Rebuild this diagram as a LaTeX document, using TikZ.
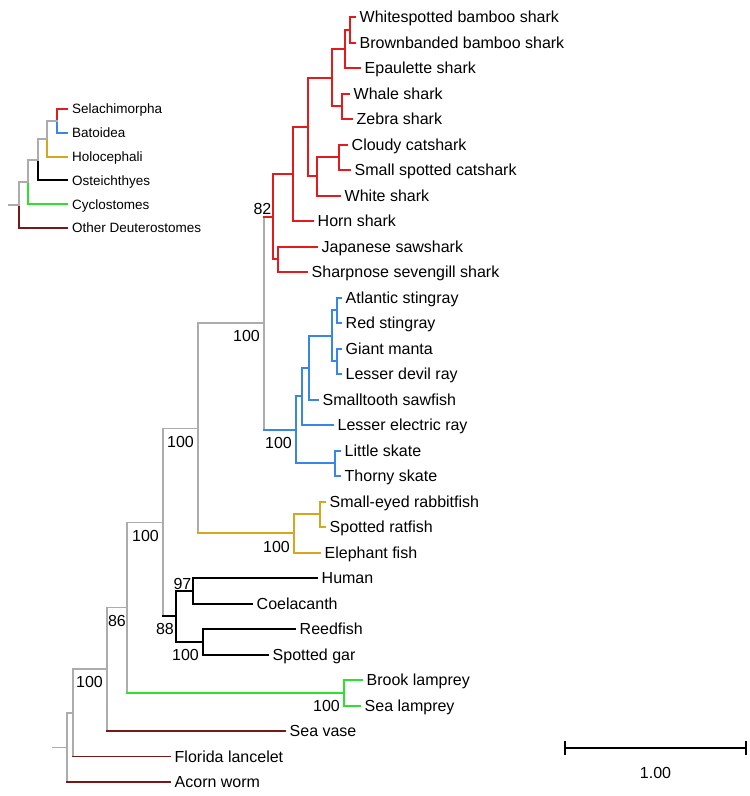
\documentclass[tikz,border=0pt]{standalone}
\usepackage{fontspec}
\setmainfont{Liberation Sans}
\usetikzlibrary{positioning}
\definecolor{sharkred}{RGB}{228,26,28}
\definecolor{rayblue}{RGB}{55,135,230}
\definecolor{chimaeragold}{RGB}{214,166,30}
\definecolor{lampreygreen}{RGB}{45,225,45}
\definecolor{outgroupred}{RGB}{120,24,24}
\definecolor{stemgray}{RGB}{172,172,172}
\newcommand\taxonfont{\fontsize{16}{18}\selectfont}
\newcommand\keyfont{\fontsize{13.5}{15}\selectfont}

\begin{document}
\begin{tikzpicture}[
    x=1pt, y=-1pt,
    taxon/.style={anchor=west, inner xsep=4.5pt, inner ysep=0pt, text height=11.5pt, text depth=0pt, font=\taxonfont},
    keytaxon/.style={anchor=west, inner xsep=5pt, inner ysep=0pt, text height=9.7pt, text depth=0pt, font=\keyfont},
    support/.style={inner sep=0pt, text height=11.5pt, text depth=0pt, font=\taxonfont},
    bootbelow/.style={support, anchor=north east, xshift=-4pt, yshift=-7pt},
    bootabove/.style={support, anchor=south east, xshift=-1.5pt, yshift=1.5pt},
    base/.style={line width=1.6pt, draw=stemgray},
    shk/.style={line width=2pt, draw=sharkred},
    ray/.style={line width=2pt, draw=rayblue},
    chim/.style={line width=2pt, draw=chimaeragold},
    bony/.style={line width=2pt, draw=black},
    lamp/.style={line width=2pt, draw=lampreygreen},
    outg/.style={line width=1.4pt, draw=outgroupred},
    line cap=rect
]
\useasboundingbox (0,0) rectangle (750,796);

% Legend
\node[keytaxon] (key1) at (67,109) {Selachimorpha};
\node[keytaxon] (key2) at (67,132.8) {Batoidea};
\node[keytaxon] (key3) at (67,156.6) {Holocephali};
\node[keytaxon] (key4) at (67,180.4) {Osteichthyes};
\node[keytaxon] (key5) at (67,204.2) {Cyclostomes};
\node[keytaxon] (key6) at (67,228) {Other Deuterostomes};
\coordinate (g1) at (57,120.9);
\coordinate (g2) at (47,138.75);
\coordinate (g3) at (38,159.6);
\coordinate (g4) at (28,181.9);
\coordinate (g5) at (19,204.95);
\coordinate (g0) at (9,204.95);
\draw[shk] (key1.west) -| (g1);
\draw[ray] (key2.west) -| (g1);
\draw[chim] (key3.west) -| (g2);
\draw[bony] (key4.west) -| (g3);
\draw[lamp] (key5.west) -| (g4);
\draw[outg, line width=2pt] (key6.west) -| (g5);
\foreach \a/\b in {g1/g2, g2/g3, g3/g4, g4/g5}
  \draw[base, line width=2pt] (\a) -| (\b);
\draw[base, line width=2pt] (g5) -- (g0);

% Taxa
\node[taxon] (l1) at (355,17) {Whitespotted bamboo shark};
\node[taxon] (l2) at (355,42.5) {Brownbanded bamboo shark};
\node[taxon] (l3) at (360,68) {Epaulette shark};
\node[taxon] (l4) at (349,93.5) {Whale shark};
\node[taxon] (l5) at (352,119) {Zebra shark};
\node[taxon] (l6) at (347,144.5) {Cloudy catshark};
\node[taxon] (l7) at (350,170) {Small spotted catshark};
\node[taxon] (l8) at (340,195.5) {White shark};
\node[taxon] (l9) at (313,221) {Horn shark};
\node[taxon] (l10) at (317,246.5) {Japanese sawshark};
\node[taxon] (l11) at (307,272) {Sharpnose sevengill shark};
\node[taxon] (l12) at (341,297.5) {Atlantic stingray};
\node[taxon] (l13) at (341,323) {Red stingray};
\node[taxon] (l14) at (341,348.5) {Giant manta};
\node[taxon] (l15) at (341,374) {Lesser devil ray};
\node[taxon] (l16) at (318,399.5) {Smalltooth sawfish};
\node[taxon] (l17) at (333,425) {Lesser electric ray};
\node[taxon] (l18) at (340,450.5) {Little skate};
\node[taxon] (l19) at (340,476) {Thorny skate};
\node[taxon] (l20) at (325,501.5) {Small-eyed rabbitfish};
\node[taxon] (l21) at (325,527) {Spotted ratfish};
\node[taxon] (l22) at (320,552.5) {Elephant fish};
\node[taxon] (l23) at (317,578) {Human};
\node[taxon] (l24) at (252,603.5) {Coelacanth};
\node[taxon] (l25) at (295,629) {Reedfish};
\node[taxon] (l26) at (268,654.5) {Spotted gar};
\node[taxon] (l27) at (362,680) {Brook lamprey};
\node[taxon] (l28) at (360,705.5) {Sea lamprey};
\node[taxon] (l29) at (285,731) {Sea vase};
\node[taxon] (l30) at (170,756.5) {Florida lancelet};
\node[taxon] (l31) at (170,782) {Acorn worm};

% Internal nodes
\coordinate (ws) at (350,29.75);
\coordinate (ep) at (345,48.9);
\coordinate (wz) at (342,106.25);
\coordinate (orect) at (332,77.6);
\coordinate (cat) at (339,157.25);
\coordinate (carch) at (317,176.4);
\coordinate (gal) at (308,127);
\coordinate (horn) at (293,174);
\coordinate (squal) at (278,259.25);
\coordinate (shark) at (273,216.6);
\coordinate (str) at (337,310.25);
\coordinate (myl) at (337,361.25);
\coordinate (myl2) at (332,335.75);
\coordinate (saw) at (309,367.6);
\coordinate (tor) at (302,396.3);
\coordinate (sk) at (335,463.25);
\coordinate (bat) at (296,429.8);
\coordinate (elasmo) at (264,323.2);
\coordinate (cal) at (320,514.25);
\coordinate (holo) at (294,533.4);
\coordinate (chond) at (198,428.3);
\coordinate (sarc) at (193,590.75);
\coordinate (act) at (203,641.75);
\coordinate (ost) at (176,616.25);
\coordinate (gnath) at (163,522.3);
\coordinate (cyc) at (344,692.75);
\coordinate (vert) at (127,607.5);
\coordinate (olf) at (107,669.25);
\coordinate (chord) at (73,712.9);
\coordinate (root) at (67,747.4);
\coordinate (stem) at (53,747.4);

% Clades
\foreach \p/\c in {ws/l1, ws/l2, ep/ws, ep/l3, wz/l4, wz/l5, orect/ep, orect/wz,
    cat/l6, cat/l7, carch/cat, carch/l8, gal/orect, gal/carch, horn/gal, horn/l9,
    squal/l10, squal/l11, shark/horn, shark/squal}
  \draw[shk] (\p) |- (\c);
\foreach \p/\c in {str/l12, str/l13, myl/l14, myl/l15, myl2/str, myl2/myl,
    saw/myl2, saw/l16, tor/saw, tor/l17, sk/l18, sk/l19, bat/tor, bat/sk}
  \draw[ray] (\p) |- (\c);
\foreach \p/\c in {cal/l20, cal/l21, holo/cal, holo/l22}
  \draw[chim] (\p) |- (\c);
\foreach \p/\c in {sarc/l23, sarc/l24, act/l25, act/l26, ost/sarc, ost/act}
  \draw[bony] (\p) |- (\c);
\foreach \p/\c in {cyc/l27, cyc/l28}
  \draw[lamp] (\p) |- (\c);

% Backbone
\foreach \p/\c in {chond/elasmo, gnath/chond, vert/gnath, olf/vert, chord/olf, root/chord}
  \draw[base] (\p) |- (\c);
\foreach \p/\c/\s in {elasmo/shark/shk, elasmo/bat/ray, chond/holo/chim, gnath/ost/bony,
    vert/cyc/lamp, olf/l29/outg, chord/l30/outg, root/l31/outg} {
  \draw[base] (\p) -- (\p |- \c);
  \draw[\s] (\p |- \c) -- (\c);
}
\draw[base] (stem) -- (root);

% Support values
\node[bootabove] (bs82) at (shark) {82};
\node[bootbelow] (bs100a) at (elasmo) {100};
\node[bootbelow] (bs100b) at (bat) {100};
\node[bootbelow] (bs100c) at (chond) {100};
\node[bootbelow] (bs100d) at (holo) {100};
\node[bootabove] (bs97) at (sarc) {97};
\node[bootbelow, xshift=2pt] (bs88) at (ost) {88};
\node[bootbelow] (bs100e) at (act) {100};
\node[bootbelow] (bs100f) at (gnath) {100};
\node[bootbelow, xshift=3pt] (bs86) at (vert) {86};
\node[bootbelow] (bs100g) at (cyc) {100};
\node[bootbelow] (bs100h) at (olf) {100};

% Scale bar
\coordinate (sb0) at (565,748);
\coordinate (sb1) at (746,748);
\draw[line width=1.5pt] (sb0) -- (sb1);
\draw[line width=1.5pt] ([yshift=6pt]sb0) -- ([yshift=-6pt]sb0);
\draw[line width=1.5pt] ([yshift=6pt]sb1) -- ([yshift=-6pt]sb1);
\path (sb0) -- node[support, anchor=north, below=19pt] (sblabel) {1.00} (sb1);

\end{tikzpicture}
\end{document}
